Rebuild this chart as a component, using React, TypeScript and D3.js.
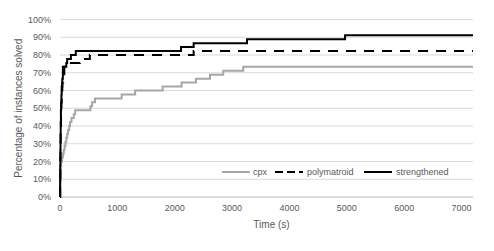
import * as d3 from "d3";

const TOTAL = 45;

// step points: time (s) and number of solved instances
const cpxTimes = [0, 5, 10, 20, 35, 50, 65, 80, 95, 110, 125, 140, 160, 175, 200, 240, 265, 530, 560, 610, 1075, 1310, 1790, 2120, 2370, 2615, 2845, 3195, 7200];
const cpxSolved = [0, 4, 8, 9, 10, 11, 12, 13, 14, 15, 16, 17, 18, 19, 20, 21, 22, 23, 24, 25, 26, 27, 28, 29, 30, 31, 32, 33, 33];

const polyTimes = [0, 3, 6, 9, 13, 18, 24, 30, 40, 55, 75, 145, 345, 520, 2330, 7200];
const polySolved = [0, 5, 10, 14, 18, 21, 24, 27, 29, 30, 33, 34, 35, 36, 37, 37];

const strTimes = [0, 2, 4, 6, 9, 12, 16, 20, 25, 30, 40, 50, 110, 125, 190, 275, 2110, 2330, 3260, 4970, 7200];
const strSolved = [0, 4, 8, 12, 16, 19, 22, 24, 26, 28, 30, 33, 34, 35, 36, 37, 38, 39, 40, 41, 41];

const xTicks = [0, 1000, 2000, 3000, 4000, 5000, 6000, 7000];
const yTicks = [0, 0.1, 0.2, 0.3, 0.4, 0.5, 0.6, 0.7, 0.8, 0.9, 1];

const series = [
  { name: "cpx", times: cpxTimes, solved: cpxSolved, color: "#a6a6a6", dash: "none" },
  { name: "polymatroid", times: polyTimes, solved: polySolved, color: "#000000", dash: "10,8" },
  { name: "strengthened", times: strTimes, solved: strSolved, color: "#000000", dash: "none" },
];

const W = 494;
const H = 251;
const FONT = "'Liberation Sans', Arial, sans-serif";
const TEXT = "#595959";

export default function App() {
  const x = d3.scaleLinear().domain([0, 7200]).range([60, 473]);
  const y = d3.scaleLinear().domain([0, 1]).range([197, 19.5]);
  const fmt = d3.format(".0%");

  const line = d3
    .line<[number, number]>()
    .x((d) => x(d[0]))
    .y((d) => y(d[1] / TOTAL))
    .curve(d3.curveStepAfter);

  // legend placement
  const legend = [
    { x0: 222, tx: 253 },
    { x0: 275, tx: 307 },
    { x0: 364, tx: 396 },
  ];
  const legendY = 172;

  return (
    <svg
      width={W}
      height={H}
      style={{ position: "absolute", left: 0, top: 0, background: "#fff" }}
      fontFamily={FONT}
    >
      <rect width={W} height={H} fill="#fff" />
      {yTicks.map((t) => (
        <g key={t}>
          {t > 0 && (
            <line x1={x(0)} x2={x(7200)} y1={y(t)} y2={y(t)} stroke="#d9d9d9" strokeWidth={1} />
          )}
          <text x={51} y={y(t)} dy="0.35em" textAnchor="end" fontSize={9} fill={TEXT}>
            {fmt(t)}
          </text>
        </g>
      ))}
      <line x1={x(0)} x2={x(7200)} y1={y(0)} y2={y(0)} stroke="#d0d0d0" strokeWidth={1.6} />
      {xTicks.map((t) => (
        <text key={t} x={x(t)} y={210.5} textAnchor="middle" fontSize={9} fill={TEXT}>
          {t}
        </text>
      ))}
      <text x={x(3600) + 5} y={227.5} textAnchor="middle" fontSize={10} fill={TEXT}>
        Time (s)
      </text>
      <text
        transform={`translate(22,${y(0.5)}) rotate(-90)`}
        textAnchor="middle"
        fontSize={10}
        fill={TEXT}
      >
        Percentage of instances solved
      </text>

      {series.map((s) => (
        <path
          key={s.name}
          d={line(s.times.map((t, i) => [t, s.solved[i]] as [number, number])) || ""}
          fill="none"
          stroke={s.color}
          strokeWidth={2}
          strokeDasharray={s.dash}
        />
      ))}

      {series.map((s, i) => (
        <g key={s.name}>
          <line
            x1={legend[i].x0}
            x2={legend[i].x0 + 28}
            y1={legendY}
            y2={legendY}
            stroke={s.color}
            strokeWidth={2}
            strokeDasharray={s.name === "polymatroid" ? "8,4" : s.dash}
          />
          <text x={legend[i].tx} y={legendY} dy="0.35em" fontSize={9} fill={TEXT}>
            {s.name}
          </text>
        </g>
      ))}
    </svg>
  );
}
